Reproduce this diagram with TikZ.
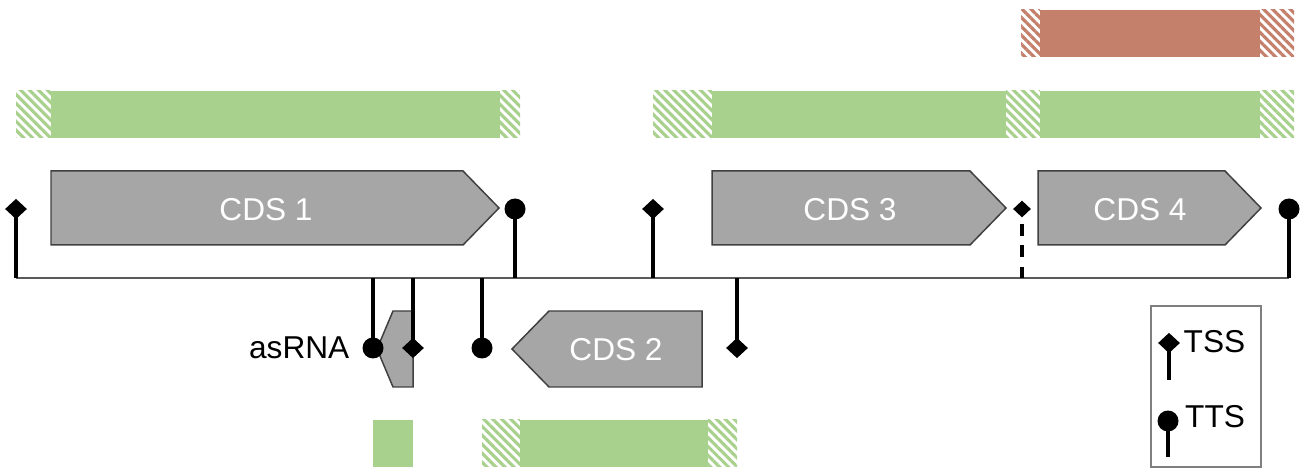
\documentclass[tikz,border=0pt]{standalone}
\usepackage{fontspec}
\setmainfont{Liberation Sans}
\usetikzlibrary{shapes.geometric}
\usetikzlibrary{patterns.meta}
\usetikzlibrary{positioning}
\definecolor{cdsgray}{HTML}{A6A6A6}
\definecolor{cdsedge}{HTML}{404040}
\definecolor{utrgreen}{HTML}{A9D18E}
\definecolor{utrred}{HTML}{C4806B}
\definecolor{axisgray}{HTML}{5A5A5A}
\definecolor{boxgray}{HTML}{7F7F7F}

\begin{document}
\begin{tikzpicture}[x=0.02cm,y=-0.02cm,
    cds/.style={draw=cdsedge,fill=cdsgray,line width=0.85pt},
    cdslabel/.style={text=white,font=\fontsize{18}{22}\selectfont,inner sep=0pt},
    txt/.style={font=\fontsize{18}{22}\selectfont,inner sep=0pt},
    hatchbar/.style={pattern={Lines[angle=-45,distance=3.6pt,line width=1.8pt]},pattern color=#1},
    tss/.style={diamond,fill=black,inner sep=0pt,minimum width=0.44cm,minimum height=0.41cm},
    tts/.style={circle,fill=black,inner sep=0pt,minimum size=0.42cm},
    stemline/.style={line width=2.2pt},
    axisline/.style={draw=axisgray,line width=1.1pt}]
  \useasboundingbox (0,0) rectangle (1311,472);

  % UTR bars
  \fill[utrred] (1040,10) rectangle (1260,57);
  \path[hatchbar=utrred] (1021,10) rectangle (1040,57);
  \path[hatchbar=utrred] (1260,10) rectangle (1294,57);
  \foreach \xa/\xb/\ya in {51/500/91, 712/1006/91, 1040/1260/91, 373/413/420, 520/708/420}
    \fill[utrgreen] (\xa,\ya) rectangle (\xb,\ya+47);
  \foreach \xa/\xb/\ya in {16/51/91, 500/520/91, 653/712/91, 1006/1040/91, 1260/1294/91, 482/520/420, 708/737/420}
    \path[hatchbar=utrgreen] (\xa,\ya) rectangle (\xb,\ya+47);

  % genome line
  \coordinate (axl) at (16,278);
  \coordinate (axr) at (1289,278);
  \draw[axisline] (axl) -- (axr);

  % coding sequences
  \draw[cds] (51,171) -- (463,171) -- (499,208) -- (463,245) -- (51,245) -- cycle;
  \node[cdslabel] (cds1) at (266,210) {CDS 1};
  \draw[cds] (702,311) -- (549,311) -- (512,349) -- (549,387) -- (702,387) -- cycle;
  \node[cdslabel] (cds2) at (616,350) {CDS 2};
  \draw[cds] (712,171) -- (970,171) -- (1006,208) -- (970,245) -- (712,245) -- cycle;
  \node[cdslabel] (cds3) at (850,210) {CDS 3};
  \draw[cds] (1038,171) -- (1225,171) -- (1261,208) -- (1225,245) -- (1038,245) -- cycle;
  \node[cdslabel] (cds4) at (1140,210) {CDS 4};
  \draw[cds] (413,311) -- (393,311) -- (377,349) -- (393,387) -- (413,387) -- cycle;

  % start and stop sites
  \foreach \x in {16,373,413,482,515,653,737,1022,1289}
    \coordinate (ax\x) at (\x,278);
  \node[tss] (tss1) at (16,209) {};
  \node[tts] (tts1) at (515,209) {};
  \node[tss] (tss3) at (653,209) {};
  \node[tss,minimum width=0.36cm,minimum height=0.34cm] (tss4) at (1022,209) {};
  \node[tts] (tts4) at (1289,209) {};
  \node[tts] (ttsas) at (373,348) {};
  \node[tss] (tssas) at (413,348) {};
  \node[tts] (tts2) at (482,348) {};
  \node[tss] (tss2) at (737,348) {};
  \draw[stemline] (ax16) -- (tss1.center);
  \draw[stemline] (ax515) -- (tts1.center);
  \draw[stemline] (ax653) -- (tss3.center);
  \draw[stemline,line width=1.9pt,dash pattern=on 6.5pt off 5.5pt] (ax1022) -- (tss4.center);
  \draw[stemline] (ax1289) -- (tts4.center);
  \draw[stemline] (ax373) -- (ttsas.center);
  \draw[stemline] (ax413) -- (tssas.center);
  \draw[stemline] (ax482) -- (tts2.center);
  \draw[stemline] (ax737) -- (tss2.center);
  \node[txt,left=0.25cm of ttsas] (aslabel) {asRNA};

  % legend
  \draw[boxgray,line width=0.85pt] (1151,306) rectangle (1261,467);
  \node[tss] (legtss) at (1169,343) {};
  \coordinate (legtssend) at (1169,380);
  \draw[stemline] (legtssend) -- (legtss.center);
  \node[txt,right=0.06cm of legtss,yshift=0.03cm] (legtsstext) {TSS};
  \node[tts] (legtts) at (1168,421) {};
  \coordinate (legttsend) at (1168,457);
  \draw[stemline] (legttsend) -- (legtts.center);
  \node[txt,right=0.12cm of legtts,yshift=0.08cm] (legttstext) {TTS};
\end{tikzpicture}
\end{document}
